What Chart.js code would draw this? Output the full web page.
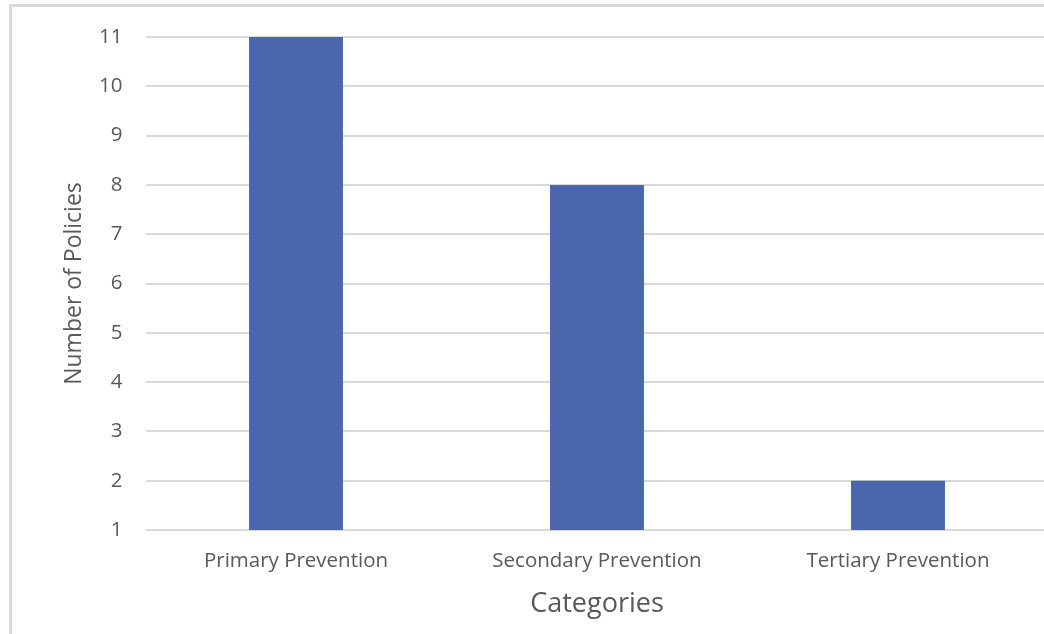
<!DOCTYPE html>
<html>
<head>
<meta charset="utf-8">
<script src="https://cdn.jsdelivr.net/npm/chart.js@4"></script>
<style>
  html, body { margin: 0; padding: 0; background: #fff; overflow: hidden; width: 1044px; height: 634px; }
  #frame { position: absolute; left: 9px; top: 4px; width: 1100px; height: 700px; border: 3px solid #d9d9d9; box-sizing: border-box; }
  #chart { position: absolute; left: 0; top: 0; }
</style>
</head>
<body>
<div id="frame"></div>
<canvas id="chart" width="1060" height="634"></canvas>
<script>
// data
var categories = ['Primary Prevention', 'Secondary Prevention', 'Tertiary Prevention'];
var policyCounts = [11, 8, 2];
var yTicks = [1, 2, 3, 4, 5, 6, 7, 8, 9, 10, 11];

var fontName = '"Open Sans", Lato, sans-serif';
var textGray = '#595959';

var ctx = document.getElementById('chart').getContext('2d');
var chart = new Chart(ctx, {
    type: 'bar',
    data: {
        labels: categories,
        datasets: [{
            data: policyCounts,
            backgroundColor: '#4A66AC',
            borderWidth: 0,
            categoryPercentage: 1,
            barPercentage: 0.312
        }]
    },
    options: {
        responsive: false,
        animation: false,
        layout: {
            padding: { top: 37, right: 11.5, bottom: 0, left: 0 }
        },
        plugins: {
            legend: { display: false },
            tooltip: { enabled: false }
        },
        scales: {
            x: {
                grid: { display: false },
                border: { display: false },
                ticks: {
                    color: textGray,
                    font: { family: fontName, size: 20.5 },
                    padding: 11,
                    maxRotation: 0
                },
                title: {
                    display: true,
                    text: 'Categories',
                    color: textGray,
                    font: { family: fontName, size: 27 },
                    padding: { top: 0, bottom: 13 }
                },
                afterFit: function(scale) { scale.height = 104; }
            },
            y: {
                min: 1,
                max: 11,
                afterBuildTicks: function(scale) {
                    scale.ticks = yTicks.map(function(v) { return { value: v }; });
                },
                grid: {
                    color: '#d9d9d9',
                    lineWidth: 2,
                    drawTicks: false
                },
                border: { display: false },
                ticks: {
                    color: textGray,
                    font: { family: fontName, size: 20.5 },
                    padding: 23
                },
                title: {
                    display: true,
                    text: 'Number of Policies',
                    color: textGray,
                    font: { family: fontName, size: 23 },
                    padding: { top: 61, bottom: 0 }
                },
                afterFit: function(scale) { scale.width = 145.5; }
            }
        }
    }
});
</script>
</body>
</html>
